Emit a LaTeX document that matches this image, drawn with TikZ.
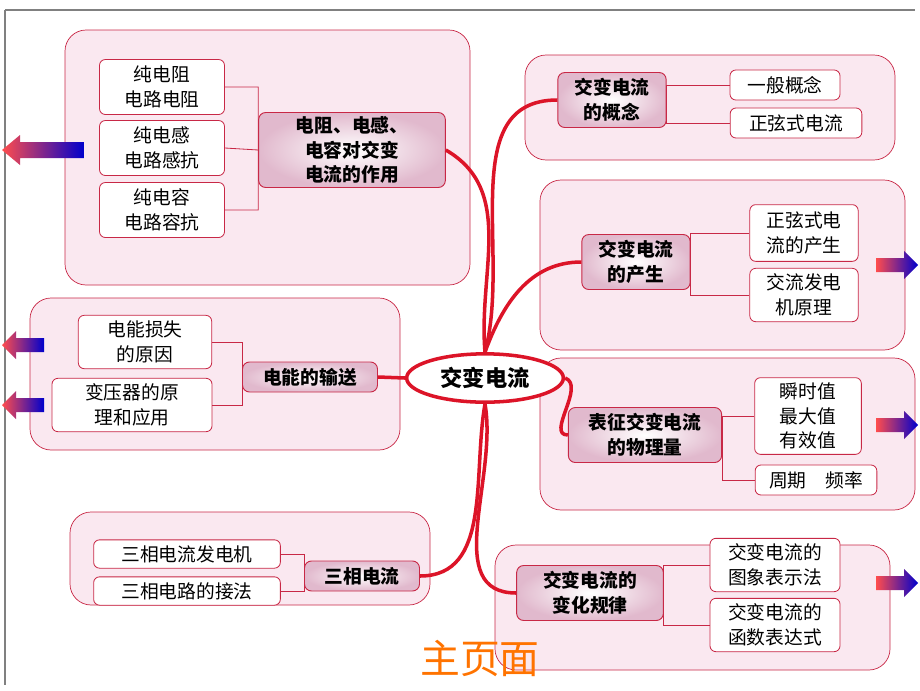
\documentclass[tikz,border=0pt]{standalone}
\usepackage{fontspec}
\setmainfont{Noto Sans CJK SC}
\usetikzlibrary{shapes.geometric}
\definecolor{mapred}{RGB}{220,20,40}
\definecolor{cloudpink}{RGB}{250,232,240}
\definecolor{topicpink}{RGB}{225,185,205}
\definecolor{linkred}{RGB}{200,40,70}

\begin{document}
\begin{tikzpicture}[x=0.03cm,y=-0.03cm, font=\fontsize{16}{21}\selectfont,
  cloud/.style={draw=linkred, fill=cloudpink, rounded corners=18pt, line width=0.6pt},
  tnode/.style={draw=linkred, rounded corners=6pt, line width=0.8pt, inner color=white, outer color=topicpink, align=center, inner sep=2pt, font=\fontsize{16}{21}\selectfont\bfseries},
  lnode/.style={draw=linkred, fill=white, rounded corners=5pt, line width=0.7pt, align=center, inner sep=2pt},
  link/.style={draw=linkred, line width=0.7pt},
  branch/.style={draw=mapred, line width=3pt},
  garrow/.style={left color=red!70!white, right color=blue!80!black}]
    \useasboundingbox (0,0) rectangle (920,690);
    \draw[gray, line width=1pt] (5,10) -- (915,10);
    \draw[gray, line width=1pt] (5,10) -- (5,685);

    % cloud regions
    \path[cloud] (65,30) rectangle (470,285);
    \path[cloud] (525,55) rectangle (895,160);
    \path[cloud] (540,180) rectangle (905,350);
    \path[cloud] (540,358) rectangle (915,510);
    \path[cloud] (495,545) rectangle (890,670);
    \path[cloud] (30,298) rectangle (400,450);
    \path[cloud] (70,512) rectangle (430,605);

    % centre
    \node[ellipse, draw=mapred, fill=white, line width=3pt, minimum width=4.7cm, minimum height=1.45cm, font=\fontsize{19}{22}\selectfont\bfseries] (ctr) at (485,378) {交变电流};

    % topics
    \node[tnode, minimum width=5.6cm, minimum height=2.25cm] (res) at (352,150) {电阻、电感、\\电容对交变\\电流的作用};
    \node[tnode, minimum width=3.25cm, minimum height=1.65cm] (con) at (612,100) {交变电流\\的概念};
    \node[tnode, minimum width=3.25cm, minimum height=1.65cm] (gen) at (636,262) {交变电流\\的产生};
    \node[tnode, minimum width=4.6cm, minimum height=1.65cm] (phy) at (645,435) {表征交变电流\\的物理量};
    \node[tnode, minimum width=4.4cm, minimum height=1.65cm] (law) at (590,593) {交变电流的\\变化规律};
    \node[tnode, minimum width=4.05cm, minimum height=0.9cm] (trn) at (310,377) {电能的输送};
    \node[tnode, minimum width=3.45cm, minimum height=0.9cm] (thr) at (362,576) {三相电流};

    % leaves
    \node[lnode, minimum width=3.75cm, minimum height=1.65cm] (r1) at (162,87) {纯电阻\\电路电阻};
    \node[lnode, minimum width=3.75cm, minimum height=1.65cm] (r2) at (162,148) {纯电感\\电路感抗};
    \node[lnode, minimum width=3.75cm, minimum height=1.65cm] (r3) at (162,210) {纯电容\\电路容抗};
    \node[lnode, minimum width=3.3cm, minimum height=0.9cm] (c1) at (785,85) {一般概念};
    \node[lnode, minimum width=3.95cm, minimum height=0.9cm] (c2) at (796,123) {正弦式电流};
    \node[lnode, minimum width=3.25cm, minimum height=1.7cm] (g1) at (804,233) {正弦式电\\流的产生};
    \node[lnode, minimum width=3.25cm, minimum height=1.6cm] (g2) at (804,295) {交流发电\\机原理};
    \node[lnode, minimum width=3.2cm, minimum height=2.3cm] (p1) at (808,416) {瞬时值\\最大值\\有效值};
    \node[lnode, minimum width=3.65cm, minimum height=0.9cm] (p2) at (816,480) {周期\quad 频率};
    \node[lnode, minimum width=3.9cm, minimum height=1.6cm] (l1) at (775,565) {交变电流的\\图象表示法};
    \node[lnode, minimum width=3.9cm, minimum height=1.6cm] (l2) at (775,625) {交变电流的\\函数表达式};
    \node[lnode, minimum width=4cm, minimum height=1.6cm] (t1) at (145,342) {电能损失\\的原因};
    \node[lnode, minimum width=4.8cm, minimum height=1.6cm] (t2) at (132,405) {变压器的原\\理和应用};
    \node[lnode, minimum width=5.6cm, minimum height=0.85cm] (h1) at (187,554) {三相电流发电机};
    \node[lnode, minimum width=5.6cm, minimum height=0.85cm] (h2) at (187,591) {三相电路的接法};

    % bracket links
    \draw[link] (r1.east) -| (res.west) (r2.east) -- (res.west) (r3.east) -| (res.west);
    \draw[link] (c1.west) -| (con.east) (c2.west) -| (con.east);
    \draw[link] (g1.west) -| (gen.east) (g2.west) -| (gen.east);
    \draw[link] (p1.west) -| (phy.east) (p2.west) -| (phy.east);
    \draw[link] (l1.west) -| (law.east) (l2.west) -| (law.east);
    \draw[link] (t1.east) -| (trn.west) (t2.east) -| (trn.west);
    \draw[link] (h1.east) -| (thr.west) (h2.east) -| (thr.west);

    % branches
    \draw[branch] (ctr.north) to[out=95,in=-30] (res.east);
    \draw[branch] (ctr.north) to[out=75,in=180] (con.west);
    \draw[branch] (ctr.north) to[out=70,in=180] (gen.west);
    \draw[branch] (ctr.east) to[out=-20,in=180] (phy.west);
    \draw[branch] (ctr.south) to[out=-80,in=180] (law.west);
    \draw[branch] (ctr.west) -- (trn.east);
    \draw[branch] (ctr.south) to[out=-100,in=0] (thr.east);

    % page arrows
    \shade[garrow] (2,150) -- (20,135) -- (20,142) -- (84,142) -- (84,158) -- (20,158) -- (20,165) -- cycle;
    \shade[garrow] (2,345) -- (16,331) -- (16,338) -- (44,338) -- (44,352) -- (16,352) -- (16,359) -- cycle;
    \shade[garrow] (2,405) -- (16,391) -- (16,398) -- (44,398) -- (44,412) -- (16,412) -- (16,419) -- cycle;
    \shade[garrow] (918,265) -- (904,251) -- (904,258) -- (876,258) -- (876,272) -- (904,272) -- (904,279) -- cycle;
    \shade[garrow] (918,425) -- (904,411) -- (904,418) -- (876,418) -- (876,432) -- (904,432) -- (904,439) -- cycle;
    \shade[garrow] (918,583) -- (904,569) -- (904,576) -- (876,576) -- (876,590) -- (904,590) -- (904,597) -- cycle;

    \node[text=orange!90!red, font=\fontsize{34}{38}\selectfont] (home) at (480,658) {主页面};
\end{tikzpicture}
\end{document}
